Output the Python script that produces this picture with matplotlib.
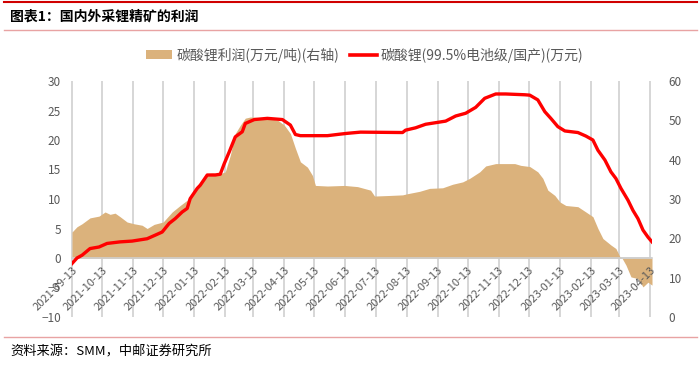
import matplotlib
matplotlib.use("Agg")
import matplotlib.pyplot as plt
from matplotlib.patches import Patch
from matplotlib.lines import Line2D
import matplotlib.dates as mdates
import pandas as pd

plt.rcParams['font.family'] = ['Noto Sans CJK SC', 'DejaVu Sans']

# ---------------- data ----------------
profit_dates = [
    "2021-09-13", "2021-09-18", "2021-09-23", "2021-10-01", "2021-10-10", "2021-10-16",
    "2021-10-21", "2021-10-26", "2021-10-31", "2021-11-07", "2021-11-14", "2021-11-22",
    "2021-11-27", "2021-12-04", "2021-12-13", "2021-12-22", "2021-12-30", "2022-01-06",
    "2022-01-13", "2022-01-21", "2022-01-26", "2022-01-31", "2022-02-08", "2022-02-13",
    "2022-02-18", "2022-02-23", "2022-02-28", "2022-03-05", "2022-03-10", "2022-03-20",
    "2022-04-06", "2022-04-13", "2022-04-19", "2022-04-24", "2022-04-29", "2022-05-06",
    "2022-05-11", "2022-05-14", "2022-05-26", "2022-06-12", "2022-06-25", "2022-07-08",
    "2022-07-12", "2022-07-27", "2022-08-09", "2022-08-14", "2022-08-26", "2022-09-05",
    "2022-09-18", "2022-09-28", "2022-10-08", "2022-10-15", "2022-10-25", "2022-10-31",
    "2022-11-10", "2022-11-20", "2022-11-29", "2022-12-05", "2022-12-14", "2022-12-22",
    "2022-12-27", "2023-01-01", "2023-01-08", "2023-01-13", "2023-01-19", "2023-01-31",
    "2023-02-08", "2023-02-15", "2023-02-20", "2023-02-25", "2023-03-05", "2023-03-10",
    "2023-03-14", "2023-03-16", "2023-03-20", "2023-03-25", "2023-04-01", "2023-04-06",
    "2023-04-11", "2023-04-15",
]
profit_values = [
    4.4, 5.3, 5.8, 6.8, 7.1, 7.8,
    7.4, 7.6, 7.0, 6.1, 5.8, 5.55,
    5.0, 5.7, 6.1, 7.8, 8.9, 9.8,
    11.5, 12.9, 14.3, 14.4, 14.3, 14.6,
    17.4, 21.1, 22.5, 23.7, 23.9, 23.8,
    23.4, 22.5, 21.1, 18.6, 16.3, 15.4,
    14.0, 12.3, 12.2, 12.3, 12.1, 11.5,
    10.5, 10.6, 10.7, 10.9, 11.3, 11.8,
    11.9, 12.5, 12.9, 13.5, 14.6, 15.6,
    16.0, 16.0, 16.0, 15.7, 15.5, 14.6,
    13.5, 11.5, 10.6, 9.5, 8.9, 8.7,
    7.8, 7.0, 5.0, 3.3, 2.2, 1.6,
    0.2, 0.0, -1.2, -3.2, -3.5, -4.9,
    -4.1, -4.6,
]

price_dates = [
    "2021-09-13", "2021-09-18", "2021-09-23", "2021-10-01", "2021-10-10", "2021-10-18",
    "2021-10-31", "2021-11-12", "2021-11-27", "2021-12-05", "2021-12-12", "2021-12-19",
    "2021-12-25", "2022-01-01", "2022-01-06", "2022-01-09", "2022-01-16", "2022-01-19",
    "2022-01-26", "2022-02-03", "2022-02-08", "2022-02-12", "2022-02-17", "2022-02-23",
    "2022-03-02", "2022-03-05", "2022-03-14", "2022-03-27", "2022-04-11", "2022-04-19",
    "2022-04-24", "2022-04-29", "2022-05-26", "2022-06-08", "2022-06-15", "2022-06-28",
    "2022-08-09", "2022-08-12", "2022-08-22", "2022-09-01", "2022-09-11", "2022-09-21",
    "2022-10-01", "2022-10-11", "2022-10-21", "2022-10-30", "2022-11-10", "2022-11-20",
    "2022-12-09", "2022-12-14", "2022-12-22", "2022-12-29", "2023-01-04", "2023-01-11",
    "2023-01-18", "2023-01-31", "2023-02-08", "2023-02-15", "2023-02-20", "2023-02-27",
    "2023-03-05", "2023-03-10", "2023-03-15", "2023-03-22", "2023-03-27", "2023-04-01",
    "2023-04-06", "2023-04-11", "2023-04-15",
]
price_values = [
    13.6, 15.0, 15.7, 17.4, 17.8, 18.7,
    19.1, 19.3, 19.9, 20.8, 21.6, 23.8,
    25.0, 26.7, 27.6, 30.1, 32.7, 33.5,
    36.1, 36.1, 36.3, 39.0, 42.0, 45.8,
    47.1, 49.2, 50.2, 50.5, 50.2, 48.8,
    46.4, 46.1, 46.1, 46.5, 46.7, 47.0,
    46.9, 47.5, 48.1, 49.0, 49.4, 49.8,
    51.1, 51.8, 53.3, 55.6, 56.7, 56.7,
    56.5, 56.4, 55.2, 52.2, 50.5, 48.4,
    47.3, 46.9, 46.0, 45.0, 42.4, 39.9,
    36.9, 35.2, 32.7, 29.7, 27.1, 25.0,
    22.1, 20.3, 19.1,
]

tick_labels = [
    "2021-09-13", "2021-10-13", "2021-11-13", "2021-12-13", "2022-01-13", "2022-02-13",
    "2022-03-13", "2022-04-13", "2022-05-13", "2022-06-13", "2022-07-13", "2022-08-13",
    "2022-09-13", "2022-10-13", "2022-11-13", "2022-12-13", "2023-01-13", "2023-02-13",
    "2023-03-13", "2023-04-13",
]

title_text = "图表1：国内外采锂精矿的利润"
source_text = "资料来源：SMM，中邮证券研究所"
area_label = "碳酸锂利润(万元/吨)(右轴)"
line_label = "碳酸锂(99.5%电池级/国产)(万元)"

# ---------------- style ----------------
AREA_COLOR = "#DBB27C"
LINE_COLOR = "#FF0000"
GRID_COLOR = "#CFCFCF"
TEXT_GRAY = "#595959"

W, H = 700, 365
fig = plt.figure(figsize=(7.0, 3.65), dpi=100)

x0, x1 = 72, 652
y_top, y_bot = 81, 317
rect = [x0 / W, 1 - y_bot / H, (x1 - x0) / W, (y_bot - y_top) / H]

profit_x = mdates.date2num(pd.to_datetime(profit_dates).to_pydatetime())
price_x = mdates.date2num(pd.to_datetime(price_dates).to_pydatetime())
tick_x = mdates.date2num(pd.to_datetime(tick_labels).to_pydatetime())
x_start = mdates.date2num(pd.Timestamp("2021-09-13").to_pydatetime())
x_end = mdates.date2num(pd.Timestamp("2023-04-15").to_pydatetime())

# background axes holding only the vertical gridlines
ax_bg = fig.add_axes(rect, label="grid")
ax_bg.set_zorder(0)
ax_bg.set_xlim(x_start, x_end)
ax_bg.set_ylim(-10, 30)
ax_bg.vlines(tick_x, -10, 30, colors=GRID_COLOR, linewidth=1.2, clip_on=False)
ax_bg.hlines([0], x_start, x_end, colors=GRID_COLOR, linewidth=1.2)
ax_bg.axis("off")

# left axis: profit area
ax = fig.add_axes(rect, label="main")
ax.set_zorder(1)
ax.patch.set_visible(False)
ax.fill_between(profit_x, 0, profit_values, color=AREA_COLOR, linewidth=0, zorder=2)

ax2 = ax.twinx()
ax2.set_zorder(2)
ax2.patch.set_visible(False)
ax2.plot(price_x, price_values, color=LINE_COLOR, linewidth=2.4, solid_joinstyle="round")
ax2.set_ylim(0, 60)
ax2.set_yticks(range(0, 61, 10))
ax2.tick_params(axis="y", length=0, labelsize=8.5, labelcolor=TEXT_GRAY, pad=12)
for s in ["top", "right", "left", "bottom"]:
    ax2.spines[s].set_visible(False)

for s in ["top", "right", "left"]:
    ax.spines[s].set_visible(False)
ax.set_ylim(-10, 30)
ax.spines["bottom"].set_position(("data", 0))
ax.spines["bottom"].set_color(GRID_COLOR)
ax.spines["bottom"].set_linewidth(1.2)

ax.set_yticks(range(-10, 31, 5))
ax.set_xlim(x_start, x_end)
ax.set_xticks(tick_x)
ax.set_xticklabels(tick_labels)
ax.tick_params(axis="x", length=0, pad=5, labelsize=8, labelcolor=TEXT_GRAY, labelrotation=45)
ax.tick_params(axis="y", length=0, labelsize=8.5, labelcolor=TEXT_GRAY, pad=8)
ax.xaxis.set_zorder(3)

# legend
handles = [Patch(facecolor=AREA_COLOR, edgecolor="none", label=area_label),
           Line2D([0], [0], color=LINE_COLOR, linewidth=2.6, label=line_label)]
leg = fig.legend(handles=handles, loc="center left", bbox_to_anchor=(146 / W, 1 - 55 / H),
                 ncol=2, frameon=False, fontsize=10, handlelength=1.9, handleheight=0.55,
                 handletextpad=0.3, columnspacing=0.8, borderpad=0, borderaxespad=0)
for t in leg.get_texts():
    t.set_color(TEXT_GRAY)

# header / footer decorations
fig.add_artist(Line2D([4 / W, 697 / W], [1 - 2 / H, 1 - 2 / H], color="#D00000", linewidth=1.5))
fig.add_artist(Line2D([4 / W, 697 / W], [1 - 30 / H, 1 - 30 / H], color="#E8A3A3", linewidth=1.0))
fig.add_artist(Line2D([4 / W, 697 / W], [1 - 337 / H, 1 - 337 / H], color="#E8A3A3", linewidth=1.0))
fig.text(10 / W, 1 - 17 / H, title_text, fontsize=10, fontweight="bold", color="black",
         ha="left", va="center")
fig.text(10 / W, 1 - 352 / H, source_text, fontsize=9.5, color="black", ha="left", va="center")

fig.canvas.draw()
for lab in ax.get_xticklabels():
    lab.set_ha("right")
    lab.set_rotation_mode("anchor")

fig.savefig("out.png", dpi=100, facecolor="white")
